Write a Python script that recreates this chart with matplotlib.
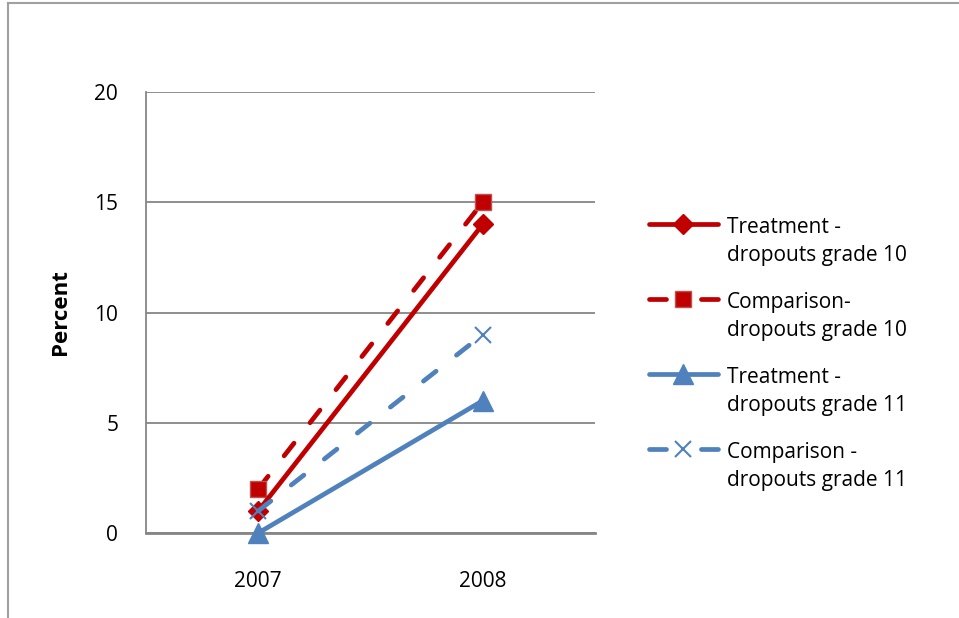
import matplotlib.pyplot as plt
from matplotlib.lines import Line2D
from matplotlib.legend_handler import HandlerLine2D

plt.rcParams['font.family'] = ['Open Sans', 'DejaVu Sans']

years = ['2007', '2008']
treat_g10 = [1, 14]
comp_g10 = [2, 15]
treat_g11 = [0, 6]
comp_g11 = [1, 9]

red = '#C00000'
blue = '#4F81BD'
grid_gray = '#868686'
lw = 3.4
dash = (0, (3.4, 5.5))


class FirstLineHandler(HandlerLine2D):
    """Put the legend sample level with the first line of a two-line label."""
    def create_artists(self, legend, orig_handle, xdescent, ydescent,
                       width, height, fontsize, trans):
        artists = super().create_artists(legend, orig_handle, xdescent,
                                         ydescent - 1.75 * fontsize, width,
                                         height, fontsize, trans)
        if orig_handle.get_linestyle() != '-':
            # one dash either side of the marker
            artists[0].set_linestyle((0, (3.6, 7.4)))
        return artists


fig = plt.figure(figsize=(9.59, 6.18), dpi=100)
ax = fig.add_axes([0.1522, 0.1375, 0.4682, 0.7136])

x = range(len(years))
ax.plot(x, treat_g10, color=red, lw=lw, marker='D', ms=10,
        solid_capstyle='round', label='Treatment -\ndropouts grade 10',
        zorder=4, clip_on=False)
ax.plot(x, comp_g10, color=red, lw=lw, ls=dash, dash_capstyle='round',
        marker='s', ms=12, mfc=red, mec='#C0504D', mew=1,
        label='Comparison-\ndropouts grade 10', zorder=3, clip_on=False)
ax.plot(x, treat_g11, color=blue, lw=lw, marker='^', ms=14,
        solid_capstyle='round', label='Treatment -\ndropouts grade 11',
        zorder=3, clip_on=False)
ax.plot(x, comp_g11, color=blue, lw=lw, ls=dash, dash_capstyle='round',
        marker='x', ms=12, mew=1.5,
        label='Comparison -\ndropouts grade 11', zorder=5, clip_on=False)

ax.set_xlim(-0.5, 1.5)
ax.set_ylim(0, 20)
ax.set_yticks([0, 5, 10, 15, 20])
ax.set_xticks(list(x))
ax.set_xticklabels(years)
ax.tick_params(length=0, labelsize=15)
ax.tick_params(axis='y', pad=20)
ax.tick_params(axis='x', pad=27)
ax.yaxis.grid(True, color=grid_gray, lw=1.3)
ax.set_axisbelow(True)
for side in ['top', 'right']:
    ax.spines[side].set_visible(False)
ax.spines['left'].set_color(grid_gray)
ax.spines['left'].set_linewidth(1.3)
ax.spines['bottom'].set_color(grid_gray)
ax.spines['bottom'].set_linewidth(2)
ax.set_ylabel('Percent', fontsize=16, fontweight='bold', labelpad=17)

handles, labels = ax.get_legend_handles_labels()
leg = ax.legend(handles, labels, loc='upper left',
                bbox_to_anchor=(0.657, 0.68),
                bbox_transform=fig.transFigure, frameon=False, fontsize=15,
                handlelength=3.3, handletextpad=0.45, labelspacing=1.25,
                handler_map={h: FirstLineHandler() for h in handles})
for t in leg.get_texts():
    t.set_linespacing(1.45)

# chart frame, only its left and top edges fall inside the image
fig.add_artist(Line2D([7.5 / 959, 7.5 / 959], [0, 1 - 3 / 618],
                      color='#A0A0A0', lw=1.5, transform=fig.transFigure))
fig.add_artist(Line2D([7.5 / 959, 1], [1 - 3 / 618, 1 - 3 / 618],
                      color='#A0A0A0', lw=1.5, transform=fig.transFigure))

fig.savefig('out.png', dpi=100)
